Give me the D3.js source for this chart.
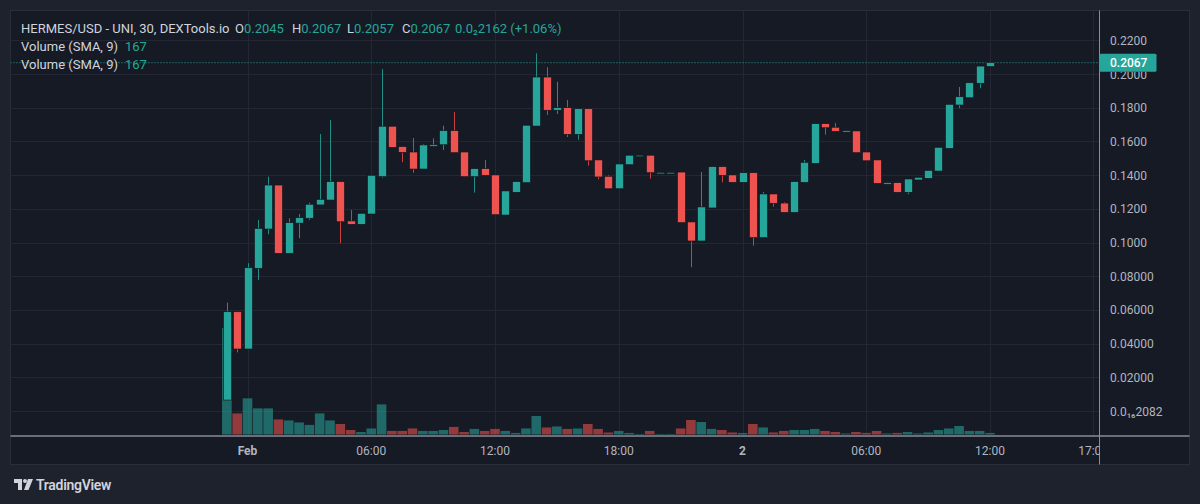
<!DOCTYPE html>
<html>
<head>
<meta charset="utf-8">
<script src="https://cdn.jsdelivr.net/npm/d3@7"></script>
<style>
  html, body { margin: 0; padding: 0; background: #1e222d; }
  svg { display: block; }
  text { font-family: Roboto, "Open Sans", sans-serif; }
</style>
</head>
<body>
<div id="main"></div>
<script>
// 30 minute bars, 23:00 Jan 31 -> 12:00 Feb 2
const opens = [0.0065,0.0589,0.0368,0.0847,0.1080,0.1341,0.0936,0.1115,0.1144,0.1223,
  0.1252,0.1361,0.1128,0.1108,0.1169,0.1391,0.1690,0.1569,0.1537,0.1436,
  0.1575,0.1580,0.1664,0.1537,0.1391,0.1438,0.1401,0.1163,0.1298,0.1355,
  0.1691,0.1982,0.1785,0.1800,0.1642,0.1794,0.1490,0.1393,0.1319,0.1462,
  0.1512,0.1518,0.1414,0.1414,0.1418,0.1122,0.1009,0.1205,0.1450,0.1401,
  0.1357,0.1414,0.1029,0.1288,0.1234,0.1179,0.1357,0.1470,0.1705,0.1684,
  0.1660,0.1662,0.1537,0.1490,0.1351,0.1355,0.1298,0.1371,0.1381,0.1424,
  0.1559,0.1816,0.1859,0.1945,0.2045];
const highs = [0.0643,0.0589,0.0877,0.1134,0.1391,0.1341,0.1144,0.1169,0.1236,0.1644,
  0.1727,0.1361,0.1193,0.1173,0.1399,0.2030,0.1690,0.1569,0.1620,0.1585,
  0.1618,0.1693,0.1774,0.1537,0.1438,0.1490,0.1401,0.1306,0.1361,0.1696,
  0.2123,0.2040,0.1954,0.1846,0.1794,0.1794,0.1490,0.1399,0.1466,0.1518,
  0.1518,0.1518,0.1418,0.1418,0.1418,0.1122,0.1418,0.1450,0.1450,0.1401,
  0.1414,0.1414,0.1300,0.1288,0.1240,0.1361,0.1490,0.1705,0.1705,0.1709,
  0.1664,0.1662,0.1537,0.1490,0.1355,0.1355,0.1377,0.1387,0.1428,0.1565,
  0.1820,0.1923,0.1948,0.2047,0.2067];
const lows = [0.0065,0.0348,0.0368,0.0777,0.1049,0.0936,0.0936,0.1025,0.1134,0.1223,
  0.1252,0.0995,0.1108,0.1108,0.1169,0.1385,0.1565,0.1476,0.1414,0.1436,
  0.1569,0.1549,0.1533,0.1391,0.1296,0.1399,0.1165,0.1163,0.1298,0.1355,
  0.1691,0.1757,0.1763,0.1626,0.1610,0.1456,0.1375,0.1319,0.1319,0.1462,
  0.1512,0.1379,0.1414,0.1414,0.1118,0.0853,0.1009,0.1205,0.1357,0.1357,
  0.1357,0.0981,0.1029,0.1212,0.1179,0.1179,0.1357,0.1470,0.1640,0.1660,
  0.1660,0.1533,0.1485,0.1351,0.1351,0.1298,0.1286,0.1371,0.1381,0.1424,
  0.1559,0.1797,0.1859,0.1915,0.2045];
const closes = [0.0589,0.0368,0.0850,0.1084,0.1341,0.0936,0.1118,0.1147,0.1227,0.1256,
  0.1361,0.1123,0.1108,0.1173,0.1399,0.1690,0.1565,0.1535,0.1436,0.1579,
  0.1580,0.1664,0.1533,0.1391,0.1438,0.1399,0.1165,0.1306,0.1361,0.1696,
  0.1982,0.1785,0.1800,0.1642,0.1794,0.1485,0.1389,0.1319,0.1466,0.1518,
  0.1518,0.1414,0.1416,0.1416,0.1118,0.1009,0.1211,0.1450,0.1399,0.1357,
  0.1414,0.1029,0.1288,0.1233,0.1179,0.1361,0.1476,0.1705,0.1681,0.1660,
  0.1664,0.1533,0.1485,0.1351,0.1355,0.1298,0.1377,0.1387,0.1428,0.1565,
  0.1820,0.1865,0.1948,0.2047,0.2067];
const volumes = [4770,945,1620,1170,1170,675,630,540,430,945,
  630,470,200,110,270,1350,160,160,270,160,
  160,200,340,110,250,160,250,160,70,270,
  830,315,360,250,270,470,250,90,160,70,
  25,160,25,25,270,650,560,250,200,90,
  70,470,315,90,160,200,200,250,160,110,
  45,110,70,160,45,70,110,45,90,200,
  270,380,160,160,70];

const priceTicks = [0.22, 0.20, 0.18, 0.16, 0.14, 0.12, 0.10, 0.08, 0.06, 0.04, 0.02, 0.0000000000000002082];
const priceTickLabels = ["0.2200", "0.2000", "0.1800", "0.1600", "0.1400", "0.1200", "0.1000",
  "0.08000", "0.06000", "0.04000", "0.02000", "0.0\u2081\u20862082"];
const timeTicks = ["2024-02-01T00:00", "2024-02-01T06:00", "2024-02-01T12:00", "2024-02-01T18:00",
  "2024-02-02T00:00", "2024-02-02T06:00", "2024-02-02T12:00", "2024-02-02T17:00"];
const timeTickLabels = ["Feb", "06:00", "12:00", "18:00", "2", "06:00", "12:00", "17:00"];
const lastPrice = 0.2067;
const legendValues = [["O", "0.2045"], ["H", "0.2067"], ["L", "0.2057"], ["C", "0.2067"]];
const legendChange = "0.0\u20822162 (+1.06%)";
const volumeSma = "167";

const W = 1200, H = 504;
const UP = "#26a69a", DOWN = "#ef5350";
const parse = s => new Date(s + ":00Z");

const barTimes = d3.utcMinute.every(30).range(parse("2024-01-31T23:00"), parse("2024-02-02T12:01"));
const bars = barTimes.map((t, i) => ({
  t: t, o: opens[i], h: highs[i], l: lows[i], c: closes[i], v: volumes[i]
}));

const pane = { x0: 10.5, y0: 10.5, x1: 1189.5, y1: 464.5 };
const axisX = 1099.5, axisY = 436;

const x = d3.scaleUtc()
  .domain([parse("2024-02-01T00:00"), parse("2024-02-02T12:00")])
  .range([247.5, 990]);
const y = d3.scaleLinear().domain([0, 0.2]).range([411, 74]);
const yv = d3.scaleLinear().domain([0, d3.max(volumes)]).range([434.5, 328]);

const svg = d3.select("#main").append("svg").attr("width", W).attr("height", H);

svg.append("rect").attr("width", W).attr("height", H).attr("fill", "#1e222d");
svg.append("rect")
  .attr("x", pane.x0).attr("y", pane.y0)
  .attr("width", pane.x1 - pane.x0).attr("height", pane.y1 - pane.y0)
  .attr("fill", "#161a25").attr("stroke", "#2a2e39");

svg.append("clipPath").attr("id", "plot-clip")
  .append("rect").attr("x", pane.x0).attr("y", pane.y0)
  .attr("width", axisX - pane.x0).attr("height", axisY - pane.y0);

const plot = svg.append("g").attr("clip-path", "url(#plot-clip)");

// grid
plot.selectAll(".hgrid").data(priceTicks).enter().append("line")
  .attr("x1", pane.x0).attr("x2", axisX)
  .attr("y1", d => Math.round(y(d)) + 0.5).attr("y2", d => Math.round(y(d)) + 0.5)
  .attr("stroke", "#242733");
plot.selectAll(".vgrid").data(timeTicks).enter().append("line")
  .attr("x1", d => Math.round(x(parse(d))) + 0.5).attr("x2", d => Math.round(x(parse(d))) + 0.5)
  .attr("y1", pane.y0).attr("y2", axisY)
  .attr("stroke", "#242733");

// volume
plot.selectAll(".vol").data(bars).enter().append("rect")
  .attr("x", d => x(d.t) - 4.8)
  .attr("width", 9.6)
  .attr("y", d => yv(d.v))
  .attr("height", d => yv(0) - yv(d.v))
  .attr("fill", d => d.c >= d.o ? UP : DOWN)
  .attr("opacity", 0.58);

// last price line
plot.append("line")
  .attr("x1", pane.x0).attr("x2", axisX)
  .attr("y1", y(lastPrice)).attr("y2", y(lastPrice))
  .attr("stroke", UP).attr("stroke-dasharray", "1,2");

// candles
const candles = plot.selectAll(".candle").data(bars).enter().append("g");
candles.append("line")
  .attr("x1", d => Math.round(x(d.t)) + 0.5).attr("x2", d => Math.round(x(d.t)) + 0.5)
  .attr("y1", d => y(d.h)).attr("y2", d => y(d.l))
  .attr("stroke", d => d.c >= d.o ? "#1f8f85" : "#c8403e");
candles.append("rect")
  .attr("x", d => Math.round(x(d.t)) + 0.5 - 4)
  .attr("width", 8)
  .attr("y", d => Math.min(y(d.o), y(d.c)))
  .attr("height", d => Math.max(1.5, Math.abs(y(d.o) - y(d.c))))
  .attr("fill", d => d.c >= d.o ? UP : DOWN)
  .attr("stroke", "#0f121b").attr("stroke-width", 0.6);

// axes separators
svg.append("line").attr("x1", pane.x0).attr("x2", pane.x1)
  .attr("y1", axisY).attr("y2", axisY)
  .attr("stroke", "#8a8d97").attr("stroke-width", 1.5);
svg.append("line").attr("x1", axisX).attr("x2", axisX)
  .attr("y1", pane.y0).attr("y2", pane.y1)
  .attr("stroke", "#8a8d97");

// price axis (labels under the last-price tag are hidden, as in TradingView)
const tagTop = y(lastPrice) - 9, tagBottom = y(lastPrice) + 9;
svg.append("clipPath").attr("id", "price-clip")
  .append("path")
  .attr("d", `M${axisX},${pane.y0}H${pane.x1}V${tagTop}H${axisX}Z M${axisX},${tagBottom}H${pane.x1}V${axisY + 10}H${axisX}Z`);
svg.append("g").attr("clip-path", "url(#price-clip)")
  .selectAll(".ptick").data(priceTicks).enter().append("text")
  .attr("x", 1110).attr("y", d => y(d) + 4.5)
  .attr("fill", "#b2b5be").attr("font-size", 12)
  .text((d, i) => priceTickLabels[i]);

svg.append("rect")
  .attr("x", axisX).attr("y", tagTop)
  .attr("width", 57).attr("height", 18).attr("rx", 1.5)
  .attr("fill", UP);
svg.append("text")
  .attr("x", 1110).attr("y", y(lastPrice) + 4.5)
  .attr("fill", "#ffffff").attr("font-size", 12).attr("font-weight", 500)
  .text(lastPrice.toFixed(4));

// time axis
svg.append("clipPath").attr("id", "time-clip")
  .append("rect").attr("x", pane.x0).attr("y", axisY)
  .attr("width", axisX - pane.x0).attr("height", pane.y1 - axisY);
svg.append("g").attr("clip-path", "url(#time-clip)")
  .selectAll("text").data(timeTicks).enter().append("text")
  .attr("x", d => x(parse(d))).attr("y", 455)
  .attr("text-anchor", "middle")
  .attr("fill", "#b2b5be").attr("font-size", 12)
  .attr("font-weight", (d, i) => (timeTickLabels[i] === "Feb" || timeTickLabels[i] === "2") ? 700 : 400)
  .text((d, i) => timeTickLabels[i]);

// legend
const legend = svg.append("text").attr("x", 21).attr("y", 33).attr("font-size", 13).attr("fill", "#d1d4dc");
legend.append("tspan").text("HERMES/USD - UNI, 30, DEXTools.io");
const legendX = [235, 292, 347, 402];
legendValues.forEach((p, i) => {
  legend.append("tspan").attr("x", legendX[i]).text(p[0]);
  legend.append("tspan").attr("fill", UP).text(p[1]);
});
legend.append("tspan").attr("x", 455).attr("fill", UP).text(legendChange);

[51, 69].forEach(yy => {
  const t = svg.append("text").attr("x", 21).attr("y", yy).attr("font-size", 13).attr("fill", "#d1d4dc");
  t.append("tspan").text("Volume (SMA, 9)");
  t.append("tspan").attr("x", 125).attr("fill", "#22ab94").text(volumeSma);
});

// TradingView logo
const logo = svg.append("g").attr("transform", "translate(14,479)");
logo.append("path").attr("d", "M0 0H8V11H4V4H0Z").attr("fill", "#d1d4dc");
logo.append("circle").attr("cx", 11).attr("cy", 2).attr("r", 2).attr("fill", "#d1d4dc");
logo.append("path").attr("d", "M14 0H19L14.5 11H10Z").attr("fill", "#d1d4dc");
svg.append("text").attr("x", 36).attr("y", 490)
  .attr("font-size", 14).attr("font-weight", 600).attr("fill", "#d1d4dc")
  .attr("letter-spacing", -0.3)
  .text("TradingView");
</script>
</body>
</html>
